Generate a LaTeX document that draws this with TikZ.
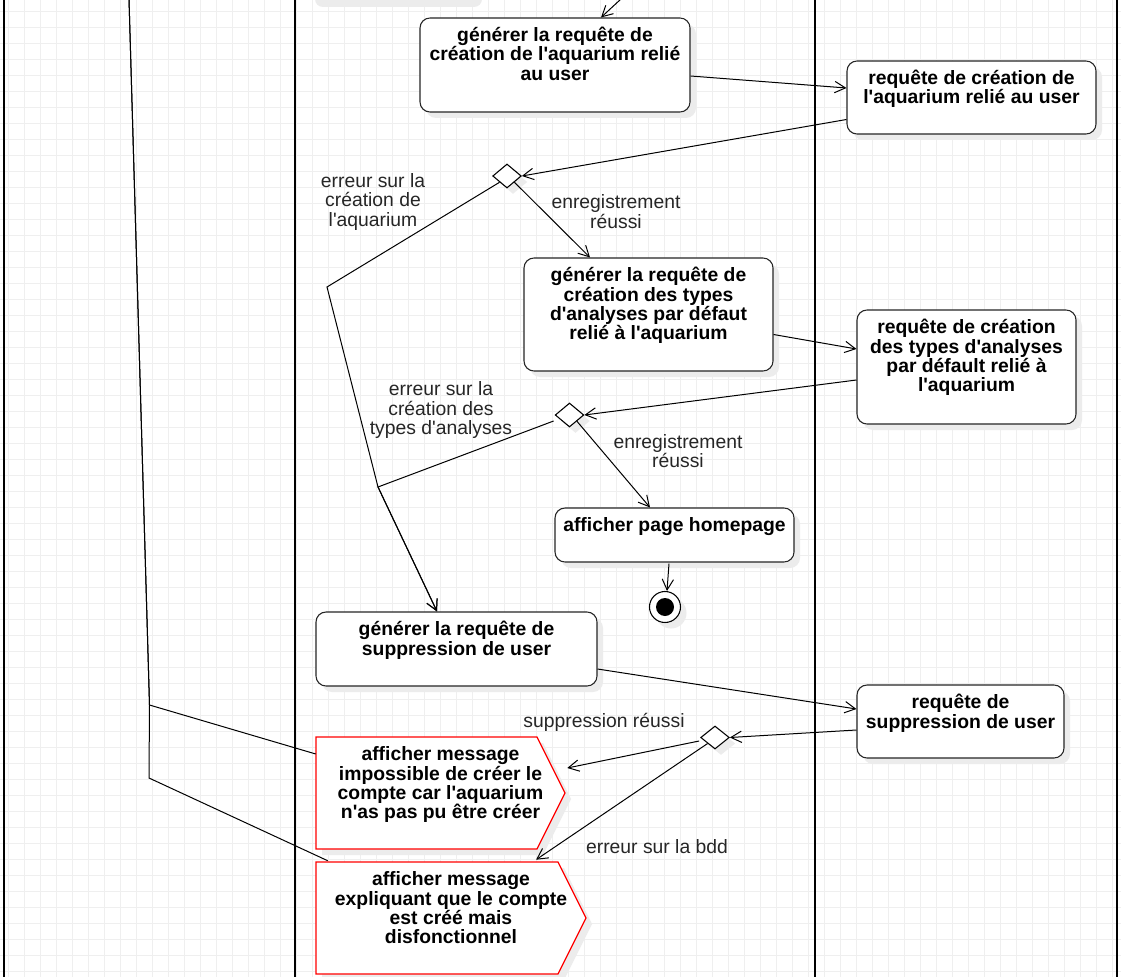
\documentclass[tikz,border=0pt]{standalone}
\usepackage{fontspec}
\setmainfont{Liberation Sans}[Ligatures=TeXOff]
\usetikzlibrary{arrows.meta,calc,shapes.geometric,shadows}
\definecolor{gridc}{HTML}{EFEFEF}
\definecolor{shadc}{HTML}{ECECEC}
\newcommand\fs{\fontsize{14.5pt}{14.5pt}\selectfont}
\newcommand\bt[3]{\parbox[c][#1][t]{#2}{\centering\rule{0pt}{17.75pt}#3\par}}
\begin{document}
\begin{tikzpicture}[x=0.75pt,y=-0.75pt,
  shad/.style={drop shadow={shadow xshift=4.5pt,shadow yshift=-4.5pt,fill=shadc,opacity=1}},
  act/.style={draw=black!85,line width=0.8pt,fill=white,rounded corners=7.5pt,inner sep=0pt,shad,font=\bfseries\fs},
  sig/.style={inner sep=0pt,font=\bfseries\fs},
  dec/.style={diamond,draw=black,line width=0.8pt,fill=white,inner sep=0pt,shad,minimum width=21.5pt,minimum height=18pt},
  conn/.style={draw=black,line width=0.75pt,-{Straight Barb[length=8pt,width=8.5pt]}},
  plain/.style={draw=black,line width=0.75pt},
  lane/.style={draw=black,line width=1.9pt},
  lbl/.style={align=center,inner sep=0pt,font=\fs,text=black!85}]
\useasboundingbox (0,0) rectangle (1121,977);
\fill[white] (0,0) rectangle (1121,977);
\foreach \i in {0,...,69} \draw[gridc,line width=0.75pt] ({8+16*\i},0) -- ({8+16*\i},977);
\foreach \i in {0,...,60} \draw[gridc,line width=0.75pt] (0,{11.5+16*\i}) -- (1121,{11.5+16*\i});
\foreach \x in {4,295,815,1117} \draw[lane] (\x,0) -- (\x,977);
% shadow of the box above the page
\fill[shadc,rounded corners=6pt] (315,-30) rectangle (482,7);
% activity boxes
\node[act,minimum width=202.5pt,minimum height=70.5pt] (A) at (555,65)
  {\bt{70.5pt}{200pt}{générer la requête de\\création de l'aquarium relié\\au user}};
\node[act,minimum width=186.75pt,minimum height=54.75pt] (B) at (971.5,97.5)
  {\bt{54.75pt}{185pt}{requête de création de\\l'aquarium relié au user}};
\node[act,minimum width=186.75pt,minimum height=84.75pt] (C) at (648.5,314.5)
  {\bt{84.75pt}{185pt}{générer la requête de\\création des types\\d'analyses par défaut\\relié à l'aquarium}};
\node[act,minimum width=164.25pt,minimum height=85.5pt] (F) at (966.5,367)
  {\bt{85.5pt}{162pt}{requête de création\\des types d'analyses\\par défault relié à\\l'aquarium}};
\node[act,minimum width=179.25pt,minimum height=40.5pt] (G) at (674.5,535)
  {\bt{40.5pt}{178pt}{afficher page homepage}};
\node[act,minimum width=210.75pt,minimum height=55.5pt] (E) at (456.5,649)
  {\bt{55.5pt}{208pt}{générer la requête de\\suppression de user}};
\node[act,minimum width=155.25pt,minimum height=54.75pt] (H) at (960.5,721.5)
  {\bt{54.75pt}{154pt}{requête de\\suppression de user}};
% decisions and final node
\node[dec] (D1) at (507,176) {};
\node[dec] (D2) at (569.5,415) {};
\node[dec,minimum height=17.25pt] (D3) at (715,737.5) {};
\node[circle,draw=black,line width=0.8pt,fill=white,inner sep=0pt,shad,minimum size=23.25pt] (end) at (665,607) {};
\fill[black] (end.center) circle (6.75pt);
% signal shapes (red)
\fill[shadc] (322,743) -- (543,743) -- (571,799) -- (543,855) -- (322,855) -- cycle;
\filldraw[draw=red,fill=white,line width=0.9pt] (316,737) -- (537,737) -- (565,793) -- (537,849) -- (316,849) -- cycle;
\fill[shadc] (322,868) -- (564,868) -- (592,924) -- (564,980) -- (322,980) -- cycle;
\filldraw[draw=red,fill=white,line width=0.9pt] (316,862) -- (558,862) -- (586,918) -- (558,974) -- (316,974) -- cycle;
\node[sig,minimum width=186.75pt,minimum height=84pt] (I) at (440.5,793)
  {\bt{84pt}{186pt}{afficher message\\impossible de créer le\\compte car l'aquarium\\n'as pas pu être créer}};
\node[sig,minimum width=202.5pt,minimum height=84pt] (J) at (451,918)
  {\bt{84pt}{202pt}{afficher message\\expliquant que le compte\\est créé mais\\disfonctionnel}};
% free ends and bends
\coordinate (topin) at (621,-1);
\coordinate (tl) at (129,-1);
\coordinate (k1) at (149.5,705);
\coordinate (k2) at (149,778);
\coordinate (b1) at (327,287);
\coordinate (j1) at (378,487);
% connectors
\draw[conn] (topin) -- ($(A.north)+(46,0)$);
\draw[conn] ($(A.east)+(0,11)$) -- ($(B.west)+(0,-9.5)$);
\draw[conn] ($(B.west)+(0,22)$) -- (D1.east);
\draw[conn] (D1.south east) -- ($(C.north)+(-58.5,0)$);
\draw[conn] (D1.south west) -- (b1) -- (j1) -- ($(E.north)+(-19.5,0)$);
\draw[conn] ($(C.east)+(0,20)$) -- ($(F.west)+(0,-18)$);
\draw[conn] ($(F.west)+(0,13)$) -- (D2.east);
\draw[conn] ($(D2.west)+(-1,6)$) -- (j1) -- ($(E.north)+(-19.5,0)$);
\draw[conn] (D2.south east) -- ($(G.north)+(-24.5,0)$);
\draw[conn] ($(G.south)+(-5.5,1)$) -- ($(end.north)+(2,0)$);
\draw[conn] ($(E.east)+(0,20)$) -- ($(H.west)+(0,-12.5)$);
\draw[conn] ($(H.west)+(0,8.5)$) -- (D3.east);
\draw[conn] ($(D3.west)+(-1,3.5)$) -- ($(I.east)+(2,-25)$);
\draw[conn] (D3.south west) -- ($(J.north)+(85,-2)$);
\draw[plain] (tl) -- (k1) -- ($(I.west)+(0,-39)$);
\draw[plain] (tl) -- (k1) -- (k2) -- ($(J.north west)+(12,-1)$);
% labels
\node[lbl] (L1) at (373,202) {erreur sur la\\création de\\l'aquarium};
\node[lbl] (L2) at (616,211.5) {enregistrement\\réussi};
\node[lbl] (L3) at (441,410) {erreur sur la\\création des\\types d'analyses};
\node[lbl] (L4) at (678,451) {enregistrement\\réussi};
\node[lbl] (L5) at (604,722) {suppression réussi};
\node[lbl] (L6) at (657,847) {erreur sur la bdd};
\end{tikzpicture}
\end{document}
